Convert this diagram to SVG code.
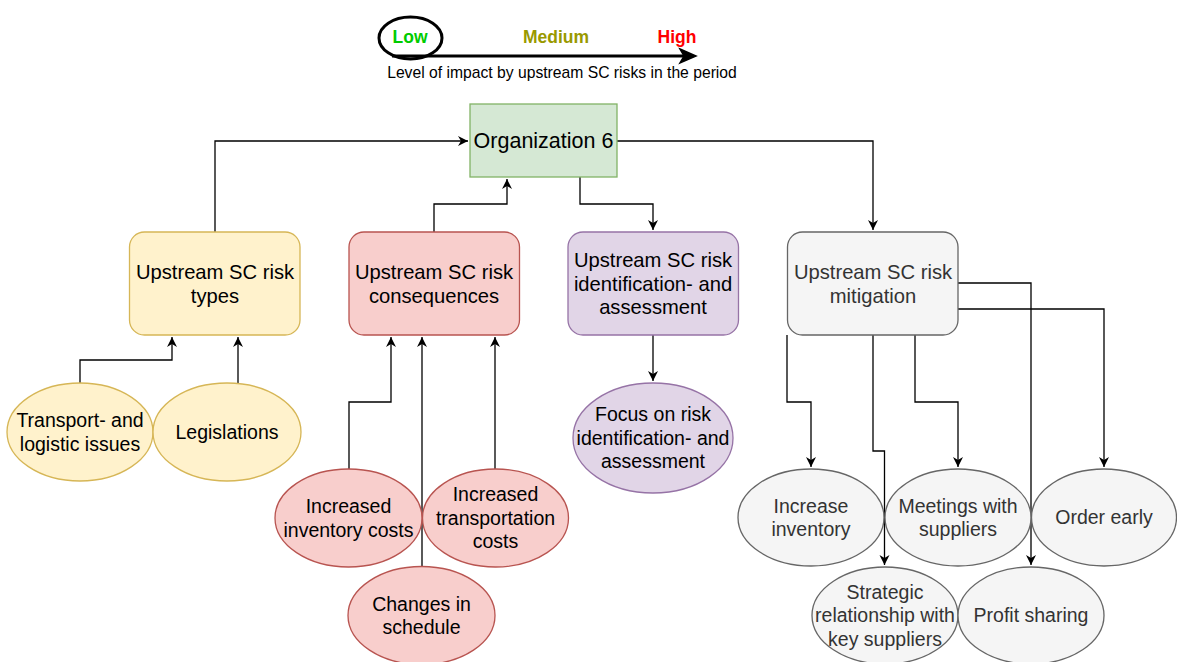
<svg xmlns="http://www.w3.org/2000/svg" width="1177" height="662" viewBox="0 0 1177 662">
<defs>
<style>
text{font-family:"Liberation Sans",Arial,Helvetica,sans-serif;text-anchor:middle}
.t{font-size:19.5px;fill:#000}
.b{font-size:20.2px;fill:#000}
.g{font-size:19.5px;fill:#333}
.gb{font-size:20.2px;fill:#333}
.org{font-size:21.5px;fill:#000}
.lg{font-size:17.5px;font-weight:bold}
.lab{font-size:15.7px;fill:#000}
.yel{fill:#fff2cc;stroke:#d6b656;stroke-width:1.3}
.red{fill:#f8cecc;stroke:#b85450;stroke-width:1.3}
.pur{fill:#e1d5e7;stroke:#9673a6;stroke-width:1.3}
.grn{fill:#d5e8d4;stroke:#82b366;stroke-width:1.3}
.gry{fill:#f5f5f5;stroke:#666;stroke-width:1.3}
.c{fill:none;stroke:#000;stroke-width:1.3}
</style>
<marker id="arr" markerUnits="userSpaceOnUse" markerWidth="12" markerHeight="12" refX="10" refY="5" orient="auto">
<path d="M0,0 L10,5 L0,10 L3,5 z" fill="#000"/>
</marker>
</defs>
<rect width="1177" height="662" fill="#fff"/>

<g id="legend">
<ellipse cx="410.5" cy="38" rx="31.5" ry="21" fill="none" stroke="#000" stroke-width="3"/>
<line x1="392" y1="56" x2="684" y2="56" stroke="#000" stroke-width="3"/>
<path d="M680,49 L696,56 L680,63 L684,56 z" fill="#000" stroke="#000" stroke-width="1.5"/>
<text class="lg" x="410" y="43" fill="#00cc00">Low</text>
<text class="lg" x="556" y="43" fill="#999900">Medium</text>
<text class="lg" x="677" y="43" fill="#ff0000">High</text>
<text class="lab" x="562" y="78">Level of impact by upstream SC risks in the period</text>
</g>

<g id="connectors">
<path class="c" d="M215,232 V141 H468" marker-end="url(#arr)"/>
<path class="c" d="M434,232 V204 H507 V179" marker-end="url(#arr)"/>
<path class="c" d="M580,177 V204 H653 V230" marker-end="url(#arr)"/>
<path class="c" d="M617,141 H873 V230" marker-end="url(#arr)"/>
<path class="c" d="M80,383 V360 H172 V337" marker-end="url(#arr)"/>
<path class="c" d="M238,384 V337" marker-end="url(#arr)"/>
<path class="c" d="M349,469 V402 H391 V337" marker-end="url(#arr)"/>
<path class="c" d="M422,567 V337" marker-end="url(#arr)"/>
<path class="c" d="M495,469 V337" marker-end="url(#arr)"/>
<path class="c" d="M653,335 V381" marker-end="url(#arr)"/>
<path class="c" d="M787,335 V402 H811 V467" marker-end="url(#arr)"/>
<path class="c" d="M873,335 V451 H884.5 V565" marker-end="url(#arr)"/>
<path class="c" d="M915,335 V402 H958 V467" marker-end="url(#arr)"/>
<path class="c" d="M958,283 H1031 V565" marker-end="url(#arr)"/>
<path class="c" d="M958,309 H1104 V467" marker-end="url(#arr)"/>
</g>

<g id="org6">
<rect class="grn" x="470" y="104" width="147" height="73"/>
<text class="org" x="543.5" y="148">Organization 6</text>
</g>

<g id="risk-types">
<rect class="yel" x="129.5" y="232" width="170.5" height="103" rx="15"/>
<text class="b" x="215" y="278.6">Upstream SC risk</text>
<text class="b" x="215" y="302.5">types</text>
</g>

<g id="risk-consequences">
<rect class="red" x="349" y="232" width="170.5" height="103" rx="15"/>
<text class="b" x="434" y="278.6">Upstream SC risk</text>
<text class="b" x="434" y="302.5">consequences</text>
</g>

<g id="risk-identification">
<rect class="pur" x="568" y="232" width="170.5" height="103" rx="15"/>
<text class="b" x="653" y="266.6">Upstream SC risk</text>
<text class="b" x="653" y="290.5">identification- and</text>
<text class="b" x="653" y="314.4">assessment</text>
</g>

<g id="risk-mitigation">
<rect class="gry" x="787.5" y="232" width="170.5" height="103" rx="15"/>
<text class="gb" x="873" y="278.6">Upstream SC risk</text>
<text class="gb" x="873" y="302.5">mitigation</text>
</g>

<g id="transport">
<ellipse class="yel" cx="80" cy="432" rx="73" ry="49"/>
<text class="t" x="80" y="427">Transport- and</text>
<text class="t" x="80" y="450.5">logistic issues</text>
</g>

<g id="legislations">
<ellipse class="yel" cx="227" cy="432" rx="74" ry="49"/>
<text class="t" x="227" y="438.8">Legislations</text>
</g>

<g id="inventory-costs">
<ellipse class="red" cx="348.5" cy="518" rx="73.5" ry="49"/>
<text class="t" x="348.5" y="513">Increased</text>
<text class="t" x="348.5" y="536.5">inventory costs</text>
</g>

<g id="transportation-costs">
<ellipse class="red" cx="495.5" cy="518" rx="73" ry="49"/>
<text class="t" x="495.5" y="501.4">Increased</text>
<text class="t" x="495.5" y="524.8">transportation</text>
<text class="t" x="495.5" y="548.2">costs</text>
</g>

<g id="changes-schedule">
<ellipse class="red" cx="421.5" cy="615.5" rx="73.5" ry="49"/>
<text class="t" x="421.5" y="610.6">Changes in</text>
<text class="t" x="421.5" y="634">schedule</text>
</g>

<g id="focus">
<ellipse class="pur" cx="653" cy="438" rx="80" ry="55"/>
<text class="t" x="653" y="421.4">Focus on risk</text>
<text class="t" x="653" y="444.8">identification- and</text>
<text class="t" x="653" y="468.2">assessment</text>
</g>

<g id="increase-inventory">
<ellipse class="gry" cx="811" cy="517.5" rx="73" ry="48.5"/>
<text class="g" x="811" y="512.6">Increase</text>
<text class="g" x="811" y="536">inventory</text>
</g>

<g id="meetings">
<ellipse class="gry" cx="958" cy="517.5" rx="73" ry="48.5"/>
<text class="g" x="958" y="512.6">Meetings with</text>
<text class="g" x="958" y="536">suppliers</text>
</g>

<g id="order-early">
<ellipse class="gry" cx="1104" cy="517.5" rx="72.5" ry="48.5"/>
<text class="g" x="1104" y="524.3">Order early</text>
</g>

<g id="strategic">
<ellipse class="gry" cx="885" cy="615.5" rx="73" ry="48.5"/>
<text class="g" x="885" y="599">Strategic</text>
<text class="g" x="885" y="622.4">relationship with</text>
<text class="g" x="885" y="645.8">key suppliers</text>
</g>

<g id="profit-sharing">
<ellipse class="gry" cx="1031" cy="615.5" rx="73" ry="48.5"/>
<text class="g" x="1031" y="622.3">Profit sharing</text>
</g>
</svg>
